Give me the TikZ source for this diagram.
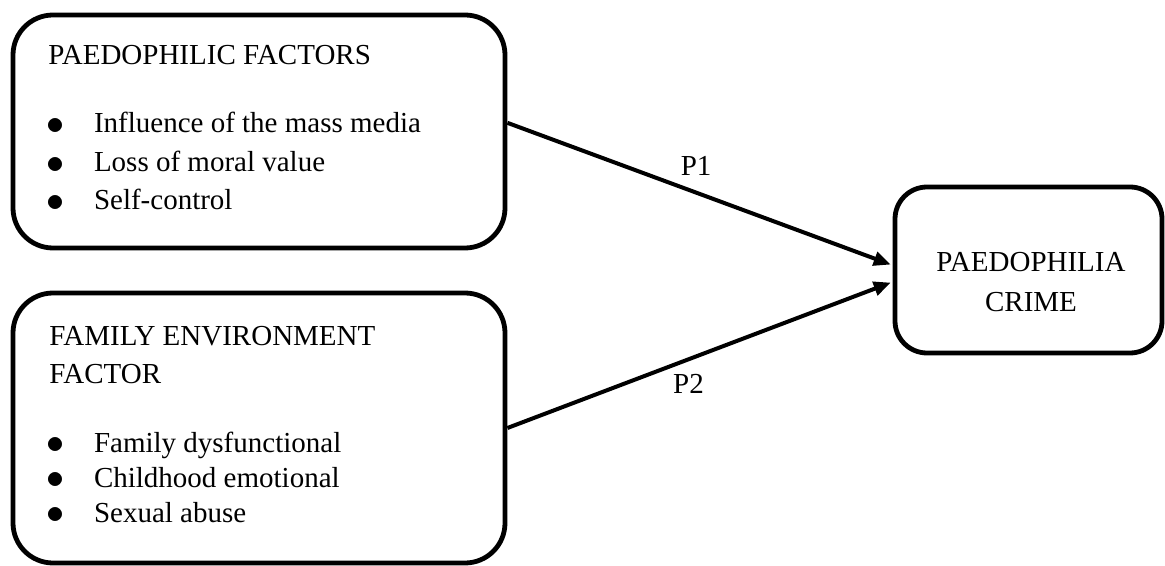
\documentclass[tikz,border=0pt]{standalone}
\usepackage{fontspec}
\setmainfont{Liberation Serif}
\usetikzlibrary{arrows.meta}
\newcommand{\bulletline}[1]{\makebox[23.8pt][l]{\raisebox{-0.6pt}{\scalebox{1.25}{$\bullet$}}}#1}

\begin{document}
\begin{tikzpicture}[x=0.5pt, y=-0.5pt, every node/.style={font=\fontsize{14.5}{20}\selectfont}, >={Triangle[length=8.5pt, width=7pt]}, box/.style={draw, line width=2.4pt, rounded corners=20pt, inner sep=0pt}, txt/.style={anchor=base west, inner sep=0pt}, arr/.style={->, line width=2pt, shorten >=1pt}]
	\useasboundingbox (0,0) rectangle (1165,566);
	% boxes
	\node[box, minimum width=246pt, minimum height=116.5pt] (pf) at (259,131.5) {};
	\node[box, minimum width=246pt, minimum height=135pt] (fe) at (259,428) {};
	\node[box, rounded corners=16pt, minimum width=133.5pt, minimum height=83pt] (pc) at (1028.5,270) {};
	% paedophilic factors
	\node[txt] (pft) at (48,65) {PAEDOPHILIC FACTORS};
	\node[txt] (pf1) at (46,133) {\bulletline{Influence of the mass media}};
	\node[txt] (pf2) at (46,172) {\bulletline{Loss of moral value}};
	\node[txt] (pf3) at (46,210) {\bulletline{Self-control}};
	% family environment factor
	\node[txt] (fet1) at (49,345) {FAMILY ENVIRONMENT};
	\node[txt] (fet2) at (49,383) {FACTOR};
	\node[txt] (fe1) at (46,452) {\bulletline{Family dysfunctional}};
	\node[txt] (fe2) at (46,487) {\bulletline{Childhood emotional}};
	\node[txt] (fe3) at (46,522) {\bulletline{Sexual abuse}};
	% paedophilia crime
	\node[anchor=base, inner sep=0pt] (pc1) at (1031,272) {PAEDOPHILIA};
	\node[anchor=base, inner sep=0pt] (pc2) at (1031,312) {CRIME};
	% paths
	\draw[arr] (pf.2) -- (pc.178) node[pos=0.49, above=4pt] (p1) {P1};
	\draw[arr] (fe.east) -- (pc.185) node[pos=0.47, below=3pt] (p2) {P2};
\end{tikzpicture}
\end{document}
